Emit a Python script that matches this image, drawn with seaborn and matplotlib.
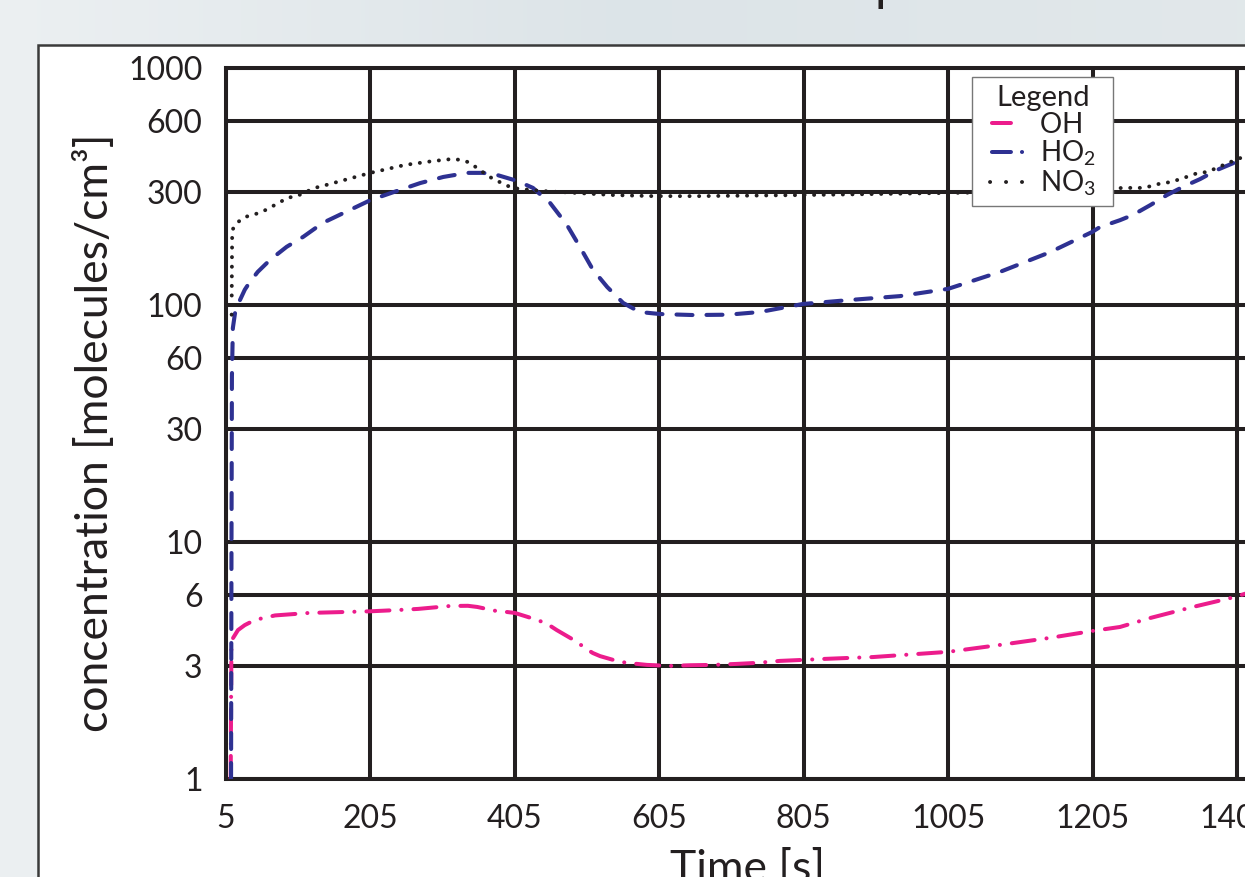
import numpy as np
import pandas as pd
import matplotlib
matplotlib.use("Agg")
import matplotlib.pyplot as plt
import seaborn as sns
from matplotlib.lines import Line2D
from matplotlib.patches import Rectangle
from matplotlib.ticker import NullLocator

# ---------------- data ----------------
oh_t = [11.5, 12, 12.5, 14, 21.6, 31, 45, 73, 120, 205, 246, 271, 315, 340, 353, 380, 393, 405,
        436, 450, 463, 491, 502, 513, 523, 546, 560, 588, 620, 648, 679, 713, 740, 772, 803,
        832, 865, 901, 1005, 1077, 1146, 1204, 1243, 1285, 1344, 1402, 1420]
oh_v = [1.0, 2.0, 3.7, 3.9, 4.25, 4.46, 4.69, 4.9, 5.02, 5.1, 5.17, 5.22, 5.37, 5.38, 5.32, 5.11,
        5.07, 5.02, 4.69, 4.51, 4.25, 3.79, 3.57, 3.40, 3.30, 3.15, 3.09, 3.03, 3.0, 3.02, 3.03,
        3.06, 3.09, 3.15, 3.18, 3.21, 3.24, 3.27, 3.44, 3.68, 3.94, 4.21, 4.38, 4.78, 5.32,
        5.86, 6.1]

ho2_t = [12, 12.6, 13.2, 14.5, 17.5, 24.4, 31, 38, 49, 66, 89, 112, 139, 205, 246, 274, 306,
         339, 361, 380, 408, 430, 454, 477, 495, 513, 533, 555, 578, 606, 652, 700, 744, 804,
         869, 938, 1005, 1077, 1146, 1204, 1215, 1243, 1261, 1285, 1308, 1330, 1354, 1377,
         1400, 1420]
ho2_v = [1.0, 10, 50, 80, 92.5, 105, 116, 125, 138, 155, 176, 194, 222, 277, 306, 327, 347,
         361, 361, 354, 334, 312, 269, 218, 176, 141, 119, 102, 93.4, 91.6, 90.7, 91, 93.4, 101,
         105, 109, 117, 138, 167, 203, 213, 228, 240, 264, 291, 315, 340, 371, 397, 425]

no3_t = [12.8, 13.2, 13.6, 20, 31, 42, 55, 67, 78, 89, 103, 128, 139, 205, 253, 292, 318, 332,
         344, 354, 375, 387, 401, 412, 440, 491, 541, 596, 661, 805, 1005, 1100, 1200, 1247,
         1275, 1287, 1301, 1314, 1326, 1339, 1351, 1364, 1377, 1405, 1420]
no3_v = [91, 150, 207, 222, 235, 240, 247, 259, 269, 283, 288, 312, 318, 361, 390, 405, 413,
         409, 397, 375, 340, 327, 312, 309, 303, 297, 291, 288, 288, 291, 297, 300, 305, 312,
         312, 318, 327, 330, 340, 350, 361, 364, 379, 412, 428]

species = ["OH", "HO$_2$", "NO$_3$"]
x_ticks = [5, 205, 405, 605, 805, 1005, 1205, 1405]
x_tick_labels = ["5", "205", "405", "605", "805", "1005", "1205", "1405"]
y_ticks = [1, 3, 6, 10, 30, 60, 100, 300, 600, 1000]
y_tick_labels = ["1", "3", "6", "10", "30", "60", "100", "300", "600", "1000"]

df = pd.concat([
    pd.DataFrame({"t": oh_t, "c": oh_v, "species": species[0]}),
    pd.DataFrame({"t": ho2_t, "c": ho2_v, "species": species[1]}),
    pd.DataFrame({"t": no3_t, "c": no3_v, "species": species[2]}),
], ignore_index=True)

# ---------------- style ----------------
sns.set_style("white")
plt.rcParams["font.family"] = ["Lato", "DejaVu Sans"]
plt.rcParams["mathtext.fontset"] = "custom"
plt.rcParams["mathtext.rm"] = "Lato"
plt.rcParams["mathtext.it"] = "Lato:italic"
plt.rcParams["mathtext.bf"] = "Lato:bold"
plt.rcParams["lines.scale_dashes"] = False

INK = "#231f20"
PINK = "#ec1c8c"
BLUE = "#2e3192"

W, H = 1245, 877
fig = plt.figure(figsize=(W / 100, H / 100), dpi=100)

# background gradient
bg = fig.add_axes([0, 0, 1, 1], zorder=-10)
bg.axis("off")
c_left = np.array([0.925, 0.94, 0.948])
c_mid = np.array([0.865, 0.895, 0.91])
c_right = np.array([0.885, 0.91, 0.92])
xs = np.linspace(0, 1, 300)
cols = np.where(xs[:, None] < 0.5,
                c_left + (c_mid - c_left) * (xs[:, None] / 0.5),
                c_mid + (c_right - c_mid) * ((xs[:, None] - 0.5) / 0.5))
bg.imshow(cols[None, :, :], aspect="auto", extent=[0, 1, 0, 1])
bg.set_xlim(0, 1)
bg.set_ylim(0, 1)

# white panel
fig.add_artist(Rectangle((38 / W, -0.2), 1.5, 1.2 - 45 / H, transform=fig.transFigure,
                         facecolor="white", edgecolor="#3a3a3a", linewidth=1.8, zorder=-5))

# partially visible title
fig.text(875 / W, 1.0, "p", fontsize=36, color=INK, ha="left", va="baseline")

px_per_unit = (1237 - 226) / 1400
right_px = 1300
ax = fig.add_axes([226 / W, (H - 779) / H, (right_px - 226) / W, (779 - 68) / H])
ax.set_facecolor("white")
ax.set_yscale("log")

styles = {
    species[0]: dict(color=PINK, lw=2.88, dashes=(16.6, 8.6, 0.1, 8.6)),
    species[1]: dict(color=BLUE, lw=2.95, dashes=(11.5, 10.1)),
    species[2]: dict(color=INK, lw=2.8, dashes=(0.1, 6.8)),
}
for sp in species:
    sub = df[df["species"] == sp]
    sns.lineplot(data=sub, x="t", y="c", ax=ax, estimator=None, sort=False,
                 color=styles[sp]["color"], lw=styles[sp]["lw"], zorder=3)
    ln = ax.lines[-1]
    ln.set_dashes(styles[sp]["dashes"])
    ln.set_dash_capstyle("round")
    ln.set_solid_capstyle("round")

ax.set_xlim(5, 5 + (right_px - 226) / px_per_unit)
ax.set_ylim(1, 1000)
ax.set_xticks(x_ticks)
ax.set_xticklabels(x_tick_labels)
ax.set_yticks(y_ticks)
ax.set_yticklabels(y_tick_labels)
ax.yaxis.set_minor_locator(NullLocator())
ax.xaxis.set_minor_locator(NullLocator())
ax.grid(True, which="major", color=INK, lw=2.9)
ax.set_axisbelow(True)
ax.tick_params(axis="both", which="major", direction="out", length=15, width=2.2,
               color=INK, labelcolor=INK, labelsize=23)
ax.tick_params(axis="y", pad=2)
ax.tick_params(axis="x", pad=3)
ax.set_xlabel("")
ax.set_ylabel("")
for s in ["top", "left", "bottom"]:
    ax.spines[s].set_visible(True)
    ax.spines[s].set_color(INK)
    ax.spines[s].set_linewidth(2.9)
ax.spines["right"].set_visible(False)

# axis labels
fig.text(95 / W, 1 - 433 / H, "concentration [molecules/cm³]", rotation=90,
         ha="center", va="center", fontsize=32, color=INK)
fig.text(748 / W, 1 - 849 / H, "Time [s]", ha="center", va="top", fontsize=32, color=INK)

# legend (dash offsets leave a small blank before each sample, as in the reference)
handles = [
    Line2D([], [], color=PINK, lw=2.88, linestyle=(105.1, (13.7, 100)),
           dash_capstyle="round"),
    Line2D([], [], color=BLUE, lw=2.88, linestyle=(113.1, (13.7, 7.9, 0.1, 100)),
           dash_capstyle="round"),
    Line2D([], [], color=INK, lw=2.8, linestyle=(4.3, (0.1, 11.4)),
           dash_capstyle="round"),
]
labels = [s + "  " for s in species]
leg = ax.legend(handles, labels, title="Legend", loc="upper left",
                bbox_to_anchor=(972 / W, 1 - 77 / H), bbox_transform=fig.transFigure,
                borderaxespad=0, fontsize=20, title_fontsize=21, frameon=True,
                fancybox=False, shadow=False, framealpha=1, edgecolor="#777777",
                handlelength=1.62, handletextpad=0.54, labelspacing=0.02,
                borderpad=0.3)
leg.get_frame().set_linewidth(1.0)
leg.set_zorder(10)
for t in leg.get_texts():
    t.set_color(INK)
leg.get_title().set_color(INK)

fig.savefig("out.png", dpi=100)
